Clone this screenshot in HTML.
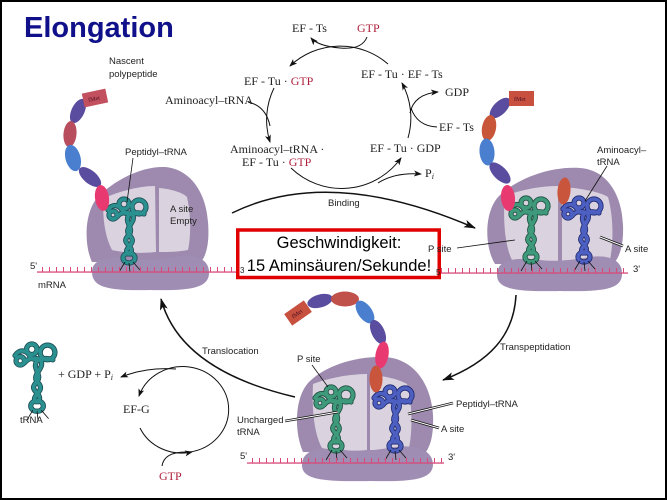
<!DOCTYPE html>
<html><head><meta charset="utf-8"><style>
html,body{margin:0;padding:0;background:#fff;}
#w{position:relative;width:667px;height:500px;overflow:hidden;background:#fff;}
#fr{position:absolute;left:0;top:0;width:663px;height:496px;border:2px solid #000;}
svg{position:absolute;left:0;top:0;}
</style></head><body><div id="w">
<svg width="667" height="500" viewBox="0 0 667 500" xmlns="http://www.w3.org/2000/svg">
<defs>
<marker id="ah" markerWidth="8" markerHeight="6" refX="7" refY="3" orient="auto" markerUnits="userSpaceOnUse"><path d="M0,0 L8,3 L0,6 L2,3 Z" fill="#111"/></marker>
<marker id="ahL" markerWidth="12" markerHeight="8" refX="11" refY="4" orient="auto" markerUnits="userSpaceOnUse"><path d="M0,0 L12,4 L0,8 L3,4 Z" fill="#111"/></marker>
<pattern id="tk" width="7" height="6" patternUnits="userSpaceOnUse"><rect x="0" y="0" width="1" height="6" fill="#d94a7a"/></pattern>
<g id="trs" fill="none" stroke-linecap="round">
<path d="M0,12 C4,6 10,6 14,12"/>
<ellipse cx="5" cy="17" rx="4" ry="4"/>
<ellipse cx="16" cy="6" rx="5" ry="5"/>
<ellipse cx="31" cy="9" rx="7" ry="7"/>
<path d="M9,19 C16,10 24,18 30,15"/>
<path d="M14,12 C18,20 26,12 36,16"/>
<path d="M22,16 C14,24 28,30 20,38 C12,46 28,48 22,56"/>
<path d="M24,16 C30,24 14,30 22,38 C30,46 14,50 20,56"/>
<ellipse cx="21" cy="60" rx="6" ry="5"/>
</g>
<g id="tra" stroke="#111" stroke-width="0.8" fill="none">
<path d="M17,64 L11,74 M21,65 L22,74 M25,64 L32,72"/>
</g>
</defs>

<!-- Title -->
<text x="24" y="37" font-family="Liberation Sans, sans-serif" font-weight="bold" font-size="29" fill="#10108a">Elongation</text>

<!-- ===== LEFT RIBOSOME ===== -->
<path d="M92,262 C84,245 84,212 98,197 C112,182 140,166 165,167 C190,169 206,192 208,222 C210,246 205,258 200,263 Z" fill="#9d8aae"/>
<path d="M104,198 C118,192 138,186 155,186 L156,252 C138,254 120,252 112,250 C104,235 102,212 104,198 Z" fill="#dad3df"/>
<path d="M159,188 C172,189 183,193 187,197 C191,215 191,236 188,250 C178,252 168,252 159,252 Z" fill="#dad3df"/>
<path d="M92,272 C92,258 110,256 135,259 C150,261 165,259 180,256 C200,254 210,262 209,274 C208,288 190,291 150,290 C110,291 92,288 92,272 Z" fill="#a08db3"/>
<g transform="translate(108,198)">
<use href="#trs" stroke="#1d4e55" stroke-width="5.2"/><use href="#trs" stroke="#2b9190" stroke-width="3.5"/><use href="#tra"/>
</g>
<!-- chain -->
<ellipse cx="78" cy="111" rx="6.5" ry="13" fill="#5a4c9e" transform="rotate(25 78 111)"/>
<ellipse cx="70" cy="134" rx="6.5" ry="13" fill="#b84d5d" transform="rotate(5 70 134)"/>
<ellipse cx="73" cy="158" rx="7.5" ry="13.5" fill="#4a7fd0" transform="rotate(-15 73 158)"/>
<ellipse cx="90" cy="177" rx="6.5" ry="13.5" fill="#5a4c9e" transform="rotate(-50 90 177)"/>
<ellipse cx="102" cy="198" rx="7" ry="13" fill="#e83a70" transform="rotate(-8 102 198)"/>
<g transform="rotate(-12 95 98)"><rect x="83" y="91" width="24" height="14" fill="#c2505f"/><text x="88" y="100.5" font-family="Liberation Serif, serif" font-size="6" fill="#4a1020">fMet</text></g>
<!-- mRNA left -->
<rect x="37" y="271.4" width="200" height="1.3" fill="#d94a7a"/>
<rect x="37" y="267" width="199" height="5" fill="url(#tk)"/>

<!-- ===== RIGHT RIBOSOME ===== -->
<path d="M495,264 C484,246 484,210 500,195 C516,180 548,166 580,168 C608,170 622,196 623,225 C624,248 618,260 612,265 Z" fill="#9d8aae"/>
<path d="M505,196 C520,190 540,186 558,186 L558,262 C540,264 520,262 512,260 C504,244 503,215 505,196 Z" fill="#dad3df"/>
<path d="M562,187 C580,188 600,192 608,197 C613,215 614,240 610,260 C596,262 578,262 562,262 Z" fill="#dad3df"/>
<path d="M497,275 C497,259 515,257 540,260 C556,262 572,260 590,257 C612,254 623,262 622,275 C621,289 604,292 560,291 C515,292 497,289 497,275 Z" fill="#a08db3"/>
<g transform="translate(510,197)">
<use href="#trs" stroke="#1f5040" stroke-width="5.2"/><use href="#trs" stroke="#3f9a7c" stroke-width="3.5"/><use href="#tra"/>
</g>
<g transform="translate(563,197)">
<use href="#trs" stroke="#1f2a70" stroke-width="5.2"/><use href="#trs" stroke="#4d5fc0" stroke-width="3.5"/><use href="#tra"/>
</g>
<ellipse cx="564" cy="191" rx="6.5" ry="13.5" fill="#c9553c" transform="rotate(5 564 191)"/>
<ellipse cx="500" cy="108" rx="6.5" ry="13" fill="#5a4c9e" transform="rotate(45 500 108)"/>
<ellipse cx="489" cy="128" rx="7" ry="13" fill="#c8573a" transform="rotate(10 489 128)"/>
<ellipse cx="487" cy="152" rx="7.5" ry="13.5" fill="#4a7fd0" transform="rotate(-5 487 152)"/>
<ellipse cx="500" cy="173" rx="6.5" ry="13.5" fill="#5a4c9e" transform="rotate(-45 500 173)"/>
<ellipse cx="508" cy="198" rx="7" ry="13" fill="#e83a70" transform="rotate(-5 508 198)"/>
<rect x="509" y="91" width="25" height="15" fill="#c8503f"/><text x="514" y="101" font-family="Liberation Serif, serif" font-size="6" fill="#4a1020">fMet</text>
<rect x="438" y="272.4" width="190" height="1.3" fill="#d94a7a"/>
<rect x="438" y="268" width="190" height="5" fill="url(#tk)"/>

<!-- ===== BOTTOM RIBOSOME ===== -->
<path d="M303,452 C294,432 294,396 310,381 C326,366 355,356 385,357 C415,359 431,385 433,415 C434,438 429,450 423,455 Z" fill="#9d8aae"/>
<path d="M313,384 C328,378 350,374 367,374 L367,450 C350,452 330,450 322,448 C313,432 312,404 313,384 Z" fill="#dad3df"/>
<path d="M370,375 C386,376 400,380 407,384 C412,402 413,428 409,448 C396,450 384,450 370,450 Z" fill="#dad3df"/>
<path d="M302,465 C302,449 320,447 345,450 C360,452 377,450 395,447 C420,444 433,452 433,465 C432,479 415,482 370,481 C320,482 302,479 302,465 Z" fill="#a08db3"/>
<g transform="translate(315,386)">
<use href="#trs" stroke="#1f5040" stroke-width="5.2"/><use href="#trs" stroke="#3f9a7c" stroke-width="3.5"/><use href="#tra"/>
</g>
<g transform="translate(374,386)">
<use href="#trs" stroke="#1f2a70" stroke-width="5.2"/><use href="#trs" stroke="#4d5fc0" stroke-width="3.5"/><use href="#tra"/>
</g>
<ellipse cx="320" cy="301" rx="13" ry="6.5" fill="#5a4c9e" transform="rotate(-15 320 301)"/>
<ellipse cx="345" cy="299" rx="14" ry="7.5" fill="#c0504a"/>
<ellipse cx="365" cy="312" rx="7" ry="13" fill="#4a7fd0" transform="rotate(-35 365 312)"/>
<ellipse cx="378" cy="332" rx="6.5" ry="13" fill="#5a4c9e" transform="rotate(-25 378 332)"/>
<ellipse cx="382" cy="355" rx="6.5" ry="13.5" fill="#e83a70" transform="rotate(10 382 355)"/>
<ellipse cx="376" cy="379" rx="6.5" ry="13.5" fill="#c9553c"/>
<g transform="rotate(-35 298 313)"><rect x="286" y="306" width="24" height="14" fill="#c8503f"/><text x="291" y="315" font-family="Liberation Serif, serif" font-size="6" fill="#4a1020">fMet</text></g>
<rect x="247" y="462.4" width="197" height="1.3" fill="#d94a7a"/>
<rect x="247" y="458" width="197" height="5" fill="url(#tk)"/>

<!-- ===== Left standalone tRNA ===== -->
<g transform="translate(15,343) scale(1.05)">
<use href="#trs" stroke="#1d4e55" stroke-width="5"/><use href="#trs" stroke="#2b9190" stroke-width="3.4"/><use href="#tra"/>
</g>

<!-- ===== Arrows ===== -->
<g fill="none" stroke="#111">
<path d="M232,213 Q330,165 475,228" stroke-width="1.5" marker-end="url(#ahL)"/>
<path d="M295,397 Q180,370 161,299" stroke-width="1.5" marker-end="url(#ahL)"/>
<path d="M516,295 C514,335 490,362 443,380" stroke-width="1.5" marker-end="url(#ahL)"/>
<!-- top cycle -->
<path d="M388,64 A73,73 0 0 0 290,66" stroke-width="1" marker-end="url(#ah)"/>
<path d="M274,88 A73,73 0 0 0 270,142" stroke-width="1" marker-end="url(#ah)"/>
<path d="M248,102 Q266,106 270,126" stroke-width="1"/>
<path d="M291,168 A73,73 0 0 0 401,158" stroke-width="1" marker-end="url(#ah)"/>
<path d="M378,183 Q395,172 421,174" stroke-width="1" marker-end="url(#ah)"/>
<path d="M408,138 A73,73 0 0 0 402,83" stroke-width="1" marker-end="url(#ah)"/>
<path d="M410,113 Q414,94 438,92" stroke-width="1" marker-end="url(#ah)"/>
<path d="M437,127 Q417,126 411,108" stroke-width="1"/>
<path d="M367,37 Q362,50 340,48 Q318,46 311,38" stroke-width="1" marker-end="url(#ah)"/>
<!-- EF-G cycle -->
<path d="M140,428 A46,43 0 0 0 192,452" stroke-width="1" marker-end="url(#ah)"/>
<path d="M190,452 A46,43 0 1 0 139,396" stroke-width="1" marker-end="url(#ah)"/>
<path d="M176,369 Q146,367 121,377" stroke-width="1" marker-end="url(#ah)"/>
<path d="M162,466 Q164,452 186,452" stroke-width="1"/>
<!-- label lines -->
<path d="M133,158 L127,202" stroke-width="0.8"/>
<path d="M607,166 L585,201" stroke-width="0.8"/>
<path d="M457,248 L515,240" stroke-width="0.8"/>
<path d="M312,365 L328,387" stroke-width="0.8"/>
</g>
<!-- double lines -->
<g fill="none">
<path d="M600,237 L623,246" stroke="#111" stroke-width="2.6"/><path d="M600,237 L623,246" stroke="#fff" stroke-width="1"/>
<path d="M285,421 L338,412" stroke="#111" stroke-width="2.6"/><path d="M285,421 L338,412" stroke="#fff" stroke-width="1"/>
<path d="M453,403 L408,414" stroke="#111" stroke-width="2.6"/><path d="M453,403 L408,414" stroke="#fff" stroke-width="1"/>
<path d="M439,428 L411,420" stroke="#111" stroke-width="2.6"/><path d="M439,428 L411,420" stroke="#fff" stroke-width="1"/>
</g>

<!-- ===== Red box ===== -->
<rect x="237.75" y="230" width="201.5" height="47.5" fill="#fff" stroke="#e00000" stroke-width="3.5"/>
<g font-family="Liberation Sans, sans-serif" font-size="16.5" fill="#000" text-anchor="middle">
<text x="339" y="248">Geschwindigkeit:</text>
<text x="339" y="271">15 Aminsäuren/Sekunde!</text>
</g>
<g font-family="Liberation Sans, sans-serif" font-size="8" fill="#222">
<text x="240" y="273">3</text>
<text x="436" y="275">5</text>
</g>

<!-- ===== Serif labels ===== -->
<g font-family="Liberation Serif, serif" font-size="12" fill="#222">
<text x="292" y="32">EF - Ts</text>
<text x="357" y="32" fill="#b0203c">GTP</text>
<text x="361" y="78">EF - Tu · EF - Ts</text>
<text x="244" y="85">EF - Tu · <tspan fill="#b0203c">GTP</tspan></text>
<text x="165" y="104">Aminoacyl–tRNA</text>
<text x="230" y="153">Aminoacyl–tRNA ·</text>
<text x="242" y="166">EF - Tu · <tspan fill="#b0203c">GTP</tspan></text>
<text x="370" y="152">EF - Tu · GDP</text>
<text x="445" y="96">GDP</text>
<text x="439" y="131">EF - Ts</text>
<text x="425" y="177">P<tspan font-size="8" font-style="italic" dy="2">i</tspan></text>
<text x="58" y="378">+ GDP + P<tspan font-size="8" font-style="italic" dy="2">i</tspan></text>
<text x="123" y="413">EF-G</text>
<text x="159" y="480" fill="#b0203c">GTP</text>
</g>

<!-- ===== Sans labels ===== -->
<g font-family="Liberation Sans, sans-serif" font-size="9.5" fill="#222">
<text x="109" y="64">Nascent</text>
<text x="109" y="77">polypeptide</text>
<text x="125" y="155">Peptidyl–tRNA</text>
<text x="170" y="212">A site</text>
<text x="170" y="224">Empty</text>
<text x="30" y="269">5'</text>
<text x="38" y="288">mRNA</text>
<text x="328" y="206">Binding</text>
<text x="597" y="153">Aminoacyl–</text>
<text x="597" y="165">tRNA</text>
<text x="428" y="252">P site</text>
<text x="625" y="252">A site</text>
<text x="633" y="272">3'</text>
<text x="202" y="354">Translocation</text>
<text x="500" y="350">Transpeptidation</text>
<text x="297" y="362">P site</text>
<text x="237" y="423">Uncharged</text>
<text x="237" y="435">tRNA</text>
<text x="456" y="407">Peptidyl–tRNA</text>
<text x="441" y="432">A site</text>
<text x="240" y="459">5'</text>
<text x="448" y="460">3'</text>
<text x="20" y="423">tRNA</text>
</g>
</svg>
<div id="fr"></div>
</div></body></html>
